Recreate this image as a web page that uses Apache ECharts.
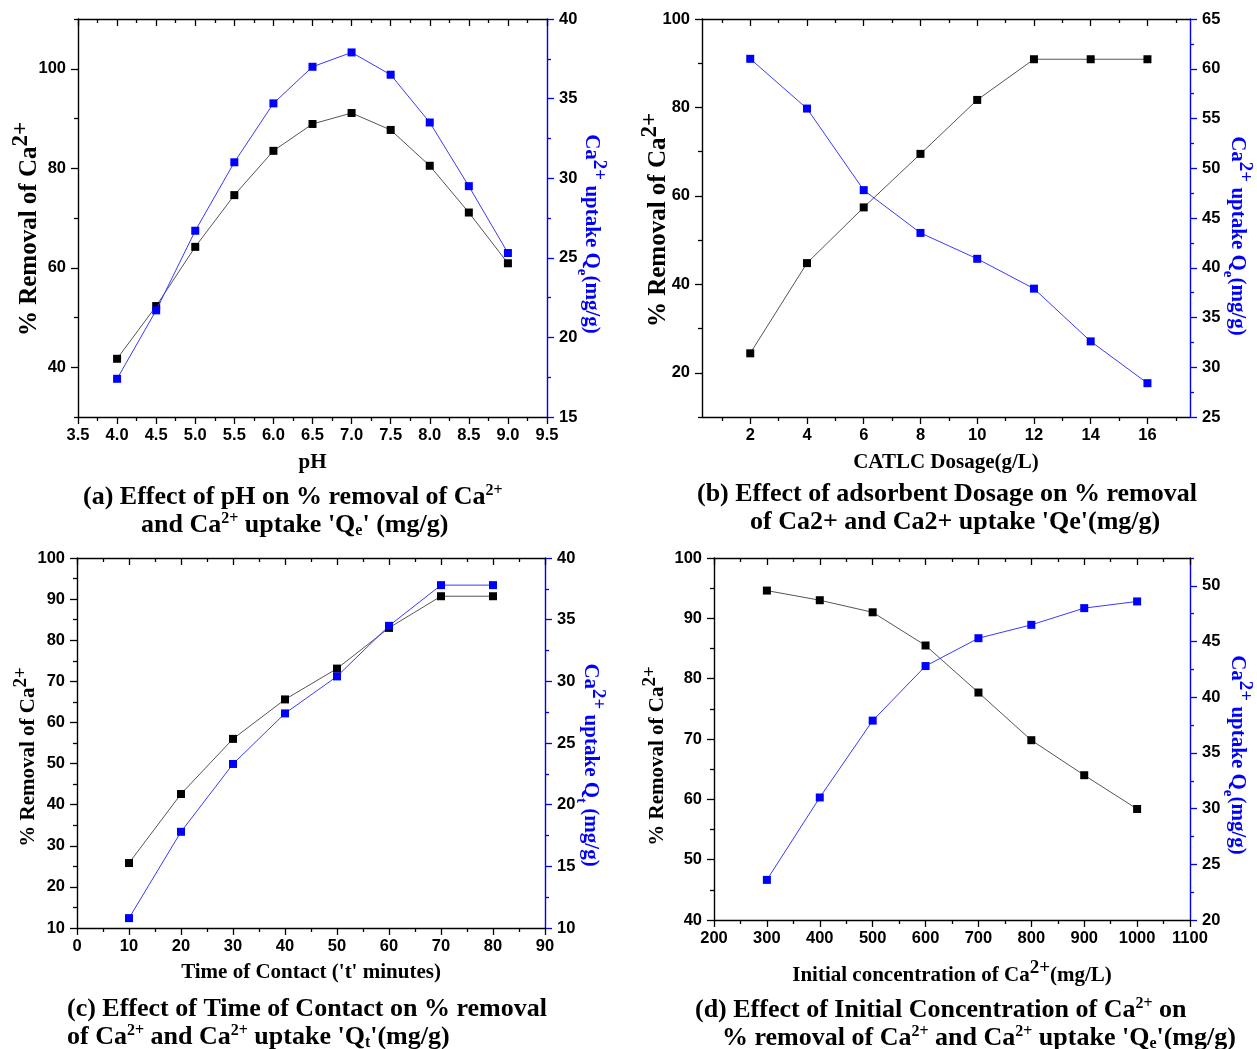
<!DOCTYPE html>
<html><head><meta charset="utf-8">
<script src="https://cdn.jsdelivr.net/npm/echarts@6/dist/echarts.min.js"></script>
<style>html,body{margin:0;padding:0;background:#fff}#c{width:1257px;height:1049px}</style>
</head><body><div id="c"></div>
<script>
// ---------- DATA ----------
// (a) effect of pH
const phX = [4.0, 4.5, 5.0, 5.5, 6.0, 6.5, 7.0, 7.5, 8.0, 8.5, 9.0];
const phRemoval = [41.7, 52.3, 64.2, 74.6, 83.5, 88.9, 91.1, 87.7, 80.5, 71.1, 60.9];
const phUptake = [17.4, 21.7, 26.7, 31.0, 34.7, 37.0, 37.9, 36.5, 33.5, 29.5, 25.3];
const phXTicks = [3.5, 4.0, 4.5, 5.0, 5.5, 6.0, 6.5, 7.0, 7.5, 8.0, 8.5, 9.0, 9.5];
const phLeftTicks = [40, 60, 80, 100];
const phRightTicks = [15, 20, 25, 30, 35, 40];

// (b) effect of adsorbent dosage
const dosX = [2, 4, 6, 8, 10, 12, 14, 16];
const dosRemoval = [24.4, 44.8, 57.4, 69.5, 81.7, 90.9, 90.9, 90.9];
const dosUptake = [61.0, 56.0, 47.8, 43.5, 40.9, 37.9, 32.6, 28.4];
const dosXTicks = [2, 4, 6, 8, 10, 12, 14, 16];
const dosLeftTicks = [20, 40, 60, 80, 100];
const dosRightTicks = [25, 30, 35, 40, 45, 50, 55, 60, 65];

// (c) effect of contact time
const timeX = [10, 20, 30, 40, 50, 60, 70, 80];
const timeRemoval = [25.8, 42.6, 56.0, 65.6, 73.1, 83.0, 90.7, 90.7];
const timeUptake = [10.8, 17.8, 23.3, 27.4, 30.4, 34.5, 37.8, 37.8];
const timeXTicks = [0, 10, 20, 30, 40, 50, 60, 70, 80, 90];
const timeLeftTicks = [10, 20, 30, 40, 50, 60, 70, 80, 90, 100];
const timeRightTicks = [10, 15, 20, 25, 30, 35, 40];

// (d) effect of initial concentration
const concX = [300, 400, 500, 600, 700, 800, 900, 1000];
const concRemoval = [94.6, 93.0, 91.0, 85.5, 77.7, 69.8, 64.0, 58.4];
const concUptake = [23.6, 31.0, 37.9, 42.8, 45.3, 46.5, 48.0, 48.6];
const concXTicks = [200, 300, 400, 500, 600, 700, 800, 900, 1000, 1100];
const concLeftTicks = [40, 50, 60, 70, 80, 90, 100];
const concRightTicks = [20, 25, 30, 35, 40, 45, 50];

// ---------- STYLE HELPERS ----------
const SANS = 'Liberation Sans', SERIF = 'Liberation Serif';
const BLUE = '#0000ff', BLUE_LINE = '#3a3aff', GREY_LINE = '#555555';
function mids(arr){ const r=[]; for(let i=0;i<arr.length-1;i++) r.push((arr[i]+arr[i+1])/2); return r; }
function capRichFor(size, color){
  const base = {fontFamily: SERIF, fontWeight: 'bold', color: color, fill: color};
  const s = Math.round(size*0.62);
  return {
    sup: Object.assign({}, base, {fontSize: s, verticalAlign: 'top', lineHeight: s}),
    sub: Object.assign({}, base, {fontSize: s, verticalAlign: 'bottom', lineHeight: s})
  };
}
function nameStyle(color, shift, size){
  size = size || 21;
  const k = size / 21;
  const base = {fontFamily: SERIF, fontWeight: 'bold', color: color};
  const pad = shift > 0 ? [0, 0, 0, 2*shift] : [0, -2*shift, 0, 0];
  return {fontFamily: SERIF, fontWeight: 'bold', fontSize: size, color: color, lineHeight: Math.round(34*k), padding: pad,
    rich: {
      sup: Object.assign({}, base, {fontSize: Math.round(19*k), lineHeight: Math.round(19*k), verticalAlign: 'top'}),
      sub: Object.assign({}, base, {fontSize: Math.round(15*k), lineHeight: Math.round(26*k), verticalAlign: 'bottom'})
    }};
}
const labelStyle = {fontFamily: SANS, fontWeight: 'bold', fontSize: 16.5, color: '#000'};

const xAxes = [], yAxes = [], series = [];
const MAJ = 7, MIN = 4;
function addX(g, min, max, majors, minors, fmt, name, nameGap){
  const common = {type: 'value', gridIndex: g, min: min, max: max, splitLine: {show: false}};
  const idx = xAxes.length;
  xAxes.push(Object.assign({}, common, {position: 'bottom',
    axisLine: {onZero: false, lineStyle: {color: '#000', width: 1.4}},
    axisTick: {customValues: majors, length: MAJ, inside: false, lineStyle: {color: '#000', width: 1.3}},
    axisLabel: Object.assign({customValues: majors, formatter: fmt, margin: 10}, labelStyle),
    name: name, nameLocation: 'middle', nameGap: nameGap, nameMoveOverlap: false, nameTextStyle: nameStyle('#000', 0)}));
  xAxes.push(Object.assign({}, common, {position: 'bottom', axisLine: {show: false, onZero: false},
    axisTick: {customValues: minors, length: MIN, inside: false, lineStyle: {color: '#000', width: 1.3}},
    axisLabel: {show: false}}));
  xAxes.push(Object.assign({}, common, {position: 'top',
    axisLine: {onZero: false, lineStyle: {color: '#000', width: 1.4}},
    axisTick: {customValues: majors, length: MAJ, inside: true, lineStyle: {color: '#000', width: 1.3}},
    axisLabel: {show: false}}));
  xAxes.push(Object.assign({}, common, {position: 'top', axisLine: {show: false, onZero: false},
    axisTick: {customValues: minors, length: MIN, inside: true, lineStyle: {color: '#000', width: 1.3}},
    axisLabel: {show: false}}));
  return idx;
}
// shift: positive moves the title along its reading direction
function addY(g, pos, min, max, majors, minors, color, name, nameGap, shift, size){
  const common = {type: 'value', gridIndex: g, min: min, max: max, position: pos, splitLine: {show: false}};
  const idx = yAxes.length;
  yAxes.push(Object.assign({}, common, {
    axisLine: {show: true, onZero: false, lineStyle: {color: color, width: 1.4}},
    axisTick: {show: true, customValues: majors, length: MAJ, inside: false, lineStyle: {color: color, width: 1.3}},
    axisLabel: Object.assign({customValues: majors, margin: 12}, labelStyle),
    name: name, nameLocation: 'middle', nameGap: nameGap, nameMoveOverlap: false,
    nameRotate: pos === 'left' ? 90 : -90,
    nameTextStyle: nameStyle(color, shift, size)}));
  yAxes.push(Object.assign({}, common, {axisLine: {show: false, onZero: false},
    axisTick: {show: true, customValues: minors, length: MIN, inside: false, lineStyle: {color: color, width: 1.3}},
    axisLabel: {show: false}}));
  return idx;
}
function zip(a, b){ return a.map((v, i) => [v, b[i]]); }
function addPanel(g, xi, yl, yr, xs, rem, upt){
  series.push({type: 'line', xAxisIndex: xi, yAxisIndex: yl, data: zip(xs, rem), symbol: 'rect', symbolSize: 8,
    itemStyle: {color: '#000'}, lineStyle: {color: GREY_LINE, width: 1}, z: 3});
  series.push({type: 'line', xAxisIndex: xi, yAxisIndex: yr, data: zip(xs, upt), symbol: 'rect', symbolSize: 8,
    itemStyle: {color: BLUE}, lineStyle: {color: BLUE_LINE, width: 1}, z: 4});
}

const grids = [
  {left: 78, top: 19, width: 469, height: 398},
  {left: 702, top: 19, width: 488, height: 398},
  {left: 77, top: 558, width: 468, height: 370},
  {left: 714, top: 558, width: 476, height: 362}
];

// (a)
let xi = addX(0, 3.5, 9.5, phXTicks, mids(phXTicks), v => v.toFixed(1), 'pH', 29);
let yl = addY(0, 'left', 30, 110, phLeftTicks, [30, 50, 70, 90, 110], '#000', '% Removal of Ca{sup|2+}', 28, -11, 25);
let yr = addY(0, 'right', 15, 40, phRightTicks, mids(phRightTicks), BLUE, 'Ca{sup|2+} uptake Q{sub|e}(mg/g)', 27, 16);
addPanel(0, xi, yl, yr, phX, phRemoval, phUptake);
// (b)
xi = addX(1, 0.3, 17.5, dosXTicks, [1, 3, 5, 7, 9, 11, 13, 15, 17], v => String(v), 'CATLC Dosage(g/L)', 29);
yl = addY(1, 'left', 10, 100, dosLeftTicks, [10, 30, 50, 70, 90], '#000', '% Removal of Ca{sup|2+}', 23, -2, 25);
yr = addY(1, 'right', 25, 65, dosRightTicks, mids(dosRightTicks), BLUE, 'Ca{sup|2+} uptake Q{sub|e}(mg/g)', 30, 18);
addPanel(1, xi, yl, yr, dosX, dosRemoval, dosUptake);
// (c)
xi = addX(2, 0, 90, timeXTicks, mids(timeXTicks), v => String(v), "Time of Contact ('t' minutes)", 28);
yl = addY(2, 'left', 10, 100, timeLeftTicks, mids(timeLeftTicks), '#000', '% Removal of Ca{sup|2+}', 31, -14);
yr = addY(2, 'right', 10, 40, timeRightTicks, mids(timeRightTicks), BLUE, 'Ca{sup|2+} uptake Q{sub|t} (mg/g)', 28, 22);
addPanel(2, xi, yl, yr, timeX, timeRemoval, timeUptake);
// (d)
xi = addX(3, 200, 1100, concXTicks, mids(concXTicks), v => String(v), 'Initial concentration of Ca{sup|2+}(mg/L)', 39);
yl = addY(3, 'left', 40, 100, concLeftTicks, mids(concLeftTicks), '#000', '% Removal of Ca{sup|2+}', 39, -17);
yr = addY(3, 'right', 20, 52.5, concRightTicks, [22.5, 27.5, 32.5, 37.5, 42.5, 47.5, 52.5], BLUE, 'Ca{sup|2+} uptake Q{sub|e}(mg/g)', 30, 16);
addPanel(3, xi, yl, yr, concX, concRemoval, concUptake);

// captions
const captions = [
  {x: 83, y: 483, t: '(a) Effect of pH on % removal of Ca{sup|2+}'},
  {x: 141, y: 511, t: "and Ca{sup|2+} uptake 'Q{sub|e}' (mg/g)"},
  {x: 697, y: 480, t: '(b) Effect of adsorbent Dosage on % removal'},
  {x: 750, y: 508, t: "of Ca2+ and Ca2+ uptake 'Qe'(mg/g)"},
  {x: 67, y: 995, t: '(c) Effect of Time of Contact on % removal'},
  {x: 67, y: 1023, t: "of Ca{sup|2+} and Ca{sup|2+} uptake 'Q{sub|t}'(mg/g)"},
  {x: 695, y: 996, t: '(d) Effect of Initial Concentration of Ca{sup|2+} on'},
  {x: 722, y: 1024, t: "% removal of Ca{sup|2+} and Ca{sup|2+} uptake 'Q{sub|e}'(mg/g)"}
];
const capRich = capRichFor(26, '#000');
const graphic = captions.map(c => ({type: 'text', x: c.x, y: c.y, style: {
  text: c.t, fontFamily: SERIF, fontWeight: 'bold', fontSize: 26, fill: '#000', lineHeight: 28, rich: capRich }}));

const chart = echarts.init(document.getElementById('c'), null, {renderer: 'canvas'});
chart.setOption({
  animation: false,
  backgroundColor: '#fff',
  grid: grids,
  xAxis: xAxes,
  yAxis: yAxes,
  series: series,
  graphic: graphic
});
</script></body></html>
